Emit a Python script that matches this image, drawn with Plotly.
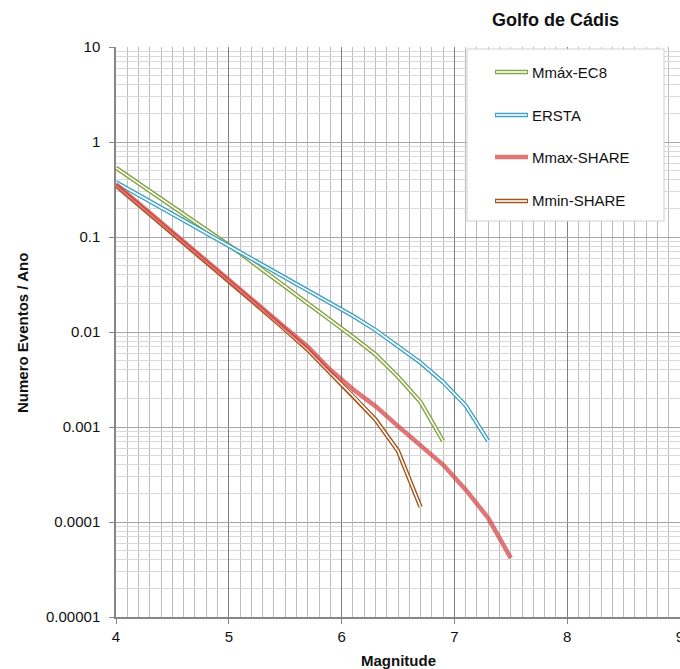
import plotly.graph_objects as go

# ---- data ----
mag_ec8 = [4.0, 4.3, 4.5, 4.7, 4.9, 5.1, 5.3, 5.5, 5.7, 5.9, 6.1, 6.3, 6.5, 6.7, 6.9]
val_ec8 = [0.535, 0.305, 0.21, 0.145, 0.10, 0.068, 0.045, 0.030, 0.020, 0.0135, 0.0089, 0.0058, 0.00338, 0.00183, 0.00071]

mag_ersta = [4.0, 4.3, 4.5, 4.7, 4.9, 5.1, 5.3, 5.5, 5.7, 5.9, 6.1, 6.3, 6.5, 6.7, 6.9, 7.1, 7.3]
val_ersta = [0.377, 0.238, 0.175, 0.129, 0.095, 0.070, 0.051, 0.0376, 0.0275, 0.0202, 0.0148, 0.0105, 0.0070, 0.00475, 0.00297, 0.00168, 0.00071]

mag_smax = [4.0, 4.3, 4.5, 4.7, 4.9, 5.1, 5.3, 5.5, 5.7, 5.9, 6.1, 6.3, 6.5, 6.7, 6.9, 7.1, 7.3, 7.5]
val_smax = [0.359, 0.178, 0.112, 0.070, 0.0439, 0.0277, 0.0175, 0.0111, 0.0070, 0.0040, 0.0025, 0.00166, 0.00102, 0.00065, 0.00040, 0.000219, 0.000110, 0.0000417]

mag_smin = [4.0, 4.3, 4.5, 4.7, 4.9, 5.1, 5.3, 5.5, 5.7, 5.9, 6.1, 6.3, 6.5, 6.7]
val_smin = [0.347, 0.174, 0.110, 0.0684, 0.0431, 0.0272, 0.0170, 0.0106, 0.0065, 0.0037, 0.00214, 0.0012, 0.00056, 0.000144]

names = ["Mmáx-EC8", "ERSTA", "Mmax-SHARE", "Mmin-SHARE"]
colors = ["#86A544", "#42A2C3", "rgba(214,72,72,0.75)", "#A3541B"]

ytickvals = [1e-5, 1e-4, 1e-3, 1e-2, 1e-1, 1, 10]
yticktext = ["0.00001", "0.0001", "0.001", "0.01", "0.1", "1", "10"]
xtickvals = [4, 5, 6, 7, 8, 9]

FONT = "Liberation Sans, Arial, sans-serif"

W, H = 680, 669
PL, PT, PB = 116, 47, 617   # plot-area edges in pixels
L, T, B, R = PL, PT, H - PB, 0
pw, ph = W - PL - R, PB - PT

def px2x(px):
    return (px - PL) / pw

def py2y(py):
    return (PB - py) / ph

fig = go.Figure()

def double_line(x, y, color, name):
    fig.add_trace(go.Scatter(x=x, y=y, mode="lines", name=name,
                             line=dict(color=color, width=4.4), showlegend=False,
                             hoverinfo="skip"))
    fig.add_trace(go.Scatter(x=x, y=y, mode="lines", name=name,
                             line=dict(color="white", width=1.6), showlegend=False,
                             hoverinfo="skip"))

double_line(mag_ec8, val_ec8, colors[0], names[0])
double_line(mag_ersta, val_ersta, colors[1], names[1])
double_line(mag_smin, val_smin, colors[3], names[3])
fig.add_trace(go.Scatter(x=mag_smax, y=val_smax, mode="lines", name=names[2],
                         line=dict(color=colors[2], width=4.5), showlegend=False,
                         hoverinfo="skip"))

# ---- manual legend (Excel-like) ----
shapes = [dict(type="rect", xref="paper", yref="paper",
               x0=px2x(467), x1=px2x(664), y0=py2y(221), y1=py2y(49),
               fillcolor="white", line=dict(color="#D0D0D0", width=1), layer="above")]
annots = []
rows = [72, 115, 157, 201]
for i, (nm, c) in enumerate(zip(names, colors)):
    yy = py2y(rows[i])
    if i == 2:
        shapes.append(dict(type="line", xref="paper", yref="paper",
                           x0=px2x(495), x1=px2x(528), y0=yy, y1=yy,
                           line=dict(color=c, width=4.5), layer="above"))
    else:
        shapes.append(dict(type="line", xref="paper", yref="paper",
                           x0=px2x(495), x1=px2x(528), y0=yy, y1=yy,
                           line=dict(color=c, width=4.4), layer="above"))
        shapes.append(dict(type="line", xref="paper", yref="paper",
                           x0=px2x(496), x1=px2x(527), y0=yy, y1=yy,
                           line=dict(color="white", width=1.6), layer="above"))
    annots.append(dict(xref="paper", yref="paper", x=px2x(530), y=yy,
                       xanchor="left", yanchor="middle", showarrow=False,
                       text=nm, font=dict(family=FONT, size=15, color="#111")))

annots.append(dict(xref="paper", yref="paper", x=px2x(555), y=py2y(20),
                   xanchor="center", yanchor="middle", showarrow=False,
                   text="<b>Golfo de Cádis</b>", font=dict(family=FONT, size=18, color="#111")))
annots.append(dict(xref="paper", yref="paper", x=px2x(398), y=py2y(660),
                   xanchor="center", yanchor="middle", showarrow=False,
                   text="<b>Magnitude</b>", font=dict(family=FONT, size=15, color="#111")))
annots.append(dict(xref="paper", yref="paper", x=px2x(22), y=py2y(333),
                   xanchor="center", yanchor="middle", showarrow=False, textangle=-90,
                   text="<b>Numero Eventos / Ano</b>", font=dict(family=FONT, size=15, color="#111")))

fig.update_layout(
    width=W, height=H,
    margin=dict(l=L, r=R, t=T, b=B, pad=0, autoexpand=False),
    paper_bgcolor="white", plot_bgcolor="white",
    showlegend=False,
    shapes=shapes, annotations=annots,
    font=dict(family=FONT, size=15, color="#111"),
    xaxis=dict(range=[4, 9], tickmode="array", tickvals=xtickvals,
               ticks="outside", ticklen=5, tickcolor="#868686", tickwidth=1.3,
               showline=True, linecolor="#868686", linewidth=1.5,
               showgrid=True, gridcolor="#7F7F7F", gridwidth=1,
               minor=dict(dtick=0.1, showgrid=True, gridcolor="#BDBDBD", gridwidth=1.2, ticks=""),
               zeroline=False, ticklabeloverflow="allow", automargin=False,
               tickfont=dict(family=FONT, size=15, color="#111")),
    yaxis=dict(type="log", range=[-5, 1], tickmode="array", tickvals=ytickvals,
               ticktext=yticktext,
               ticks="outside", ticklen=5, tickcolor="#868686", tickwidth=1.3,
               showline=True, linecolor="#868686", linewidth=1.5,
               showgrid=True, gridcolor="#A6A6A6", gridwidth=1,
               minor=dict(dtick="D1", showgrid=True, gridcolor="#D9D9D9", gridwidth=1.2, ticks=""),
               zeroline=False, ticklabelstandoff=6, automargin=False,
               tickfont=dict(family=FONT, size=15, color="#111")),
)

fig.write_html("out.html", config={"displayModeBar": False},
               post_script="document.body.style.margin='0';document.body.style.overflow='hidden';")
